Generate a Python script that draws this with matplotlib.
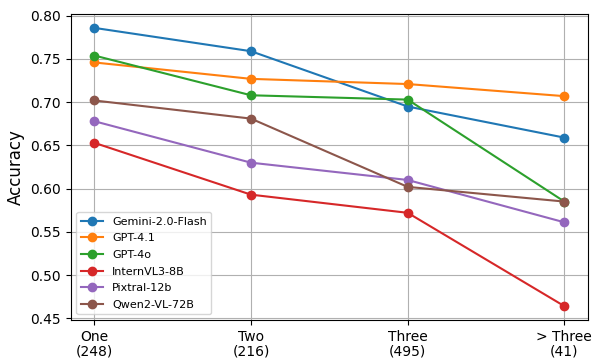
import numpy as np
import matplotlib
matplotlib.use('Agg')
import matplotlib.pyplot as plt

# Categories (number of items in parentheses)
categories = ['One\n(248)', 'Two\n(216)', 'Three\n(495)', '> Three\n(41)']

# Accuracy per model
gemini = [0.786, 0.759, 0.695, 0.659]
gpt41 = [0.746, 0.727, 0.721, 0.707]
gpt4o = [0.754, 0.708, 0.703, 0.585]
internvl = [0.653, 0.593, 0.572, 0.464]
pixtral = [0.678, 0.630, 0.610, 0.561]
qwen = [0.702, 0.681, 0.602, 0.585]

models = ['Gemini-2.0-Flash', 'GPT-4.1', 'GPT-4o', 'InternVL3-8B', 'Pixtral-12b', 'Qwen2-VL-72B']
series = [gemini, gpt41, gpt4o, internvl, pixtral, qwen]

fig, ax = plt.subplots(figsize=(5.95, 3.58), dpi=100)
x = np.arange(len(categories))
for name, vals in zip(models, series):
    ax.plot(x, vals, marker='o', label=name)

ax.set_xticks(x)
ax.set_xticklabels(categories, fontsize=10, linespacing=1.05)
ax.tick_params(axis='y', labelsize=10)
ax.set_ylabel('Accuracy', fontsize=12)
ax.grid(True)
ax.legend(loc='lower left', fontsize=8, labelspacing=0.6)

fig.subplots_adjust(left=0.119, right=0.988, top=0.961, bottom=0.106)
fig.savefig('out.png')
